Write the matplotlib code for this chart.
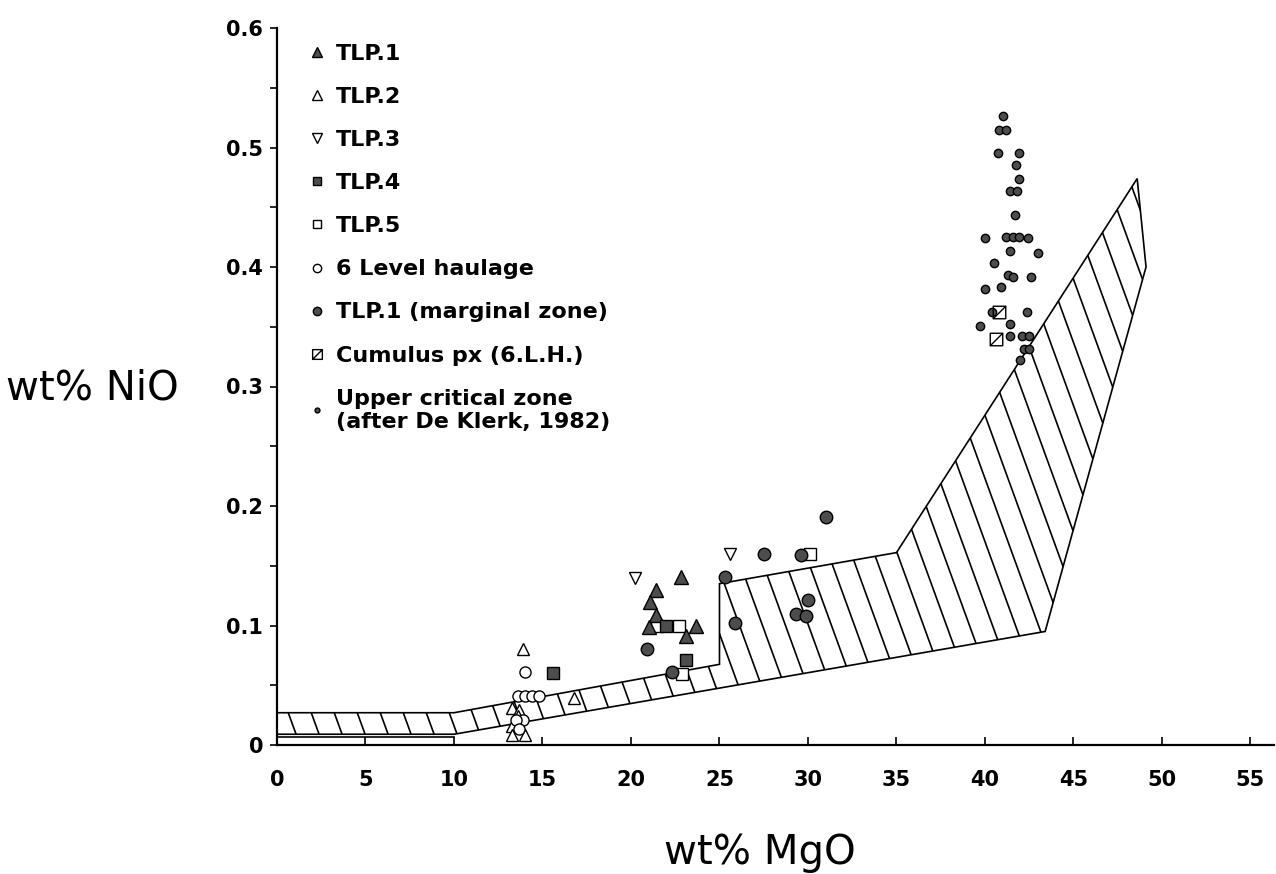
import numpy as np
import matplotlib
matplotlib.use('Agg')
import matplotlib.pyplot as plt
from matplotlib.lines import Line2D
from matplotlib.path import Path
from matplotlib.patches import Polygon
from matplotlib.collections import LineCollection

# --- data (wt% MgO, wt% NiO) ---
tlp1_x = [22.8, 21.4, 21.1, 21.4, 21.0, 23.7, 23.1]
tlp1_y = [0.141, 0.130, 0.120, 0.109, 0.099, 0.100, 0.091]

tlp2_x = [13.9, 16.8, 13.3, 13.7, 13.3, 14.0, 13.3, 13.6]
tlp2_y = [0.080, 0.039, 0.031, 0.029, 0.016, 0.008, 0.008, 0.024]

tlp3_x = [20.2, 25.6]
tlp3_y = [0.140, 0.160]

tlp4_x = [15.6, 22.0, 23.1]
tlp4_y = [0.060, 0.100, 0.071]

tlp5_x = [21.45, 22.7, 22.9, 30.1]
tlp5_y = [0.100, 0.100, 0.059, 0.160]

lh6_x = [14.0, 13.6, 14.0, 14.4, 14.8, 13.9, 13.5, 13.7]
lh6_y = [0.061, 0.041, 0.041, 0.041, 0.041, 0.021, 0.021, 0.013]

marg_x = [20.9, 22.3, 25.3, 25.9, 27.5, 29.6, 30.0, 29.3, 29.9, 31.0]
marg_y = [0.080, 0.061, 0.141, 0.102, 0.160, 0.159, 0.121, 0.110, 0.108, 0.191]

cum_x = [40.8, 40.6]
cum_y = [0.362, 0.340]

ucz_x = [41.0, 40.8, 41.2, 40.75, 41.9, 41.75, 41.9, 41.4, 41.8, 41.7, 40.0,
         41.2, 41.6, 41.9, 42.45, 41.4, 43.0, 40.5, 41.3, 41.6, 42.6, 40.0,
         40.9, 40.4, 42.4, 39.7, 41.4, 41.4, 42.1, 42.5, 42.2, 42.5, 42.0]
ucz_y = [0.526, 0.515, 0.515, 0.495, 0.495, 0.485, 0.474, 0.464, 0.464, 0.4435, 0.424,
         0.425, 0.425, 0.425, 0.424, 0.413, 0.412, 0.403, 0.393, 0.392, 0.392, 0.382,
         0.383, 0.362, 0.362, 0.351, 0.352, 0.342, 0.342, 0.342, 0.331, 0.331, 0.322]

# hatched field (outline)
field_x = [0, 10, 25, 25, 35, 48.6, 49.1, 43.4, 10, 0]
field_y = [0.027, 0.027, 0.0675, 0.135, 0.161, 0.474, 0.400, 0.095, 0.009, 0.009]
base_x = [0, 10]
base_y = [0.007, 0.007]

labels = ['TLP.1', 'TLP.2', 'TLP.3', 'TLP.4', 'TLP.5', '6 Level haulage',
          'TLP.1 (marginal zone)', 'Cumulus px (6.L.H.)',
          'Upper critical zone\n(after De Klerk, 1982)']
xticks = [0, 5, 10, 15, 20, 25, 30, 35, 40, 45, 50, 55]
yticks = [0, 0.1, 0.2, 0.3, 0.4, 0.5, 0.6]
ytick_labels = ['0', '0.1', '0.2', '0.3', '0.4', '0.5', '0.6']

dark = '#4d4d4d'
W, H = 1276, 874
ax_rect = [277 / W, 129 / H, 997 / W, 717 / H]
xmin, xmax = 0, 56.33
ymin, ymax = 0, 0.6

# square with a diagonal
cum_marker = Path([(-1, -1), (1, -1), (1, 1), (-1, 1), (-1, -1), (-1, -1), (1, 1)],
                  [Path.MOVETO, Path.LINETO, Path.LINETO, Path.LINETO, Path.CLOSEPOLY,
                   Path.MOVETO, Path.LINETO])

fig = plt.figure(figsize=(W / 100, H / 100), dpi=100)
ax = fig.add_axes(ax_rect)
ax.set_xlim(xmin, xmax)
ax.set_ylim(ymin, ymax)

# field outline + hatching
poly = Polygon(np.column_stack([field_x, field_y]), closed=True, fill=False,
               edgecolor='black', linewidth=1.2, zorder=2)
ax.add_patch(poly)
ax.plot(base_x, base_y, color='black', lw=1.2, zorder=2)

px_x = W * ax_rect[2] / (xmax - xmin)
px_y = H * ax_rect[3] / (ymax - ymin)
ang = np.radians(70)
dx_full = (ymax - ymin) * px_y / np.tan(ang) / px_x
step = 23 / px_x
segs = [[(c, ymax), (c + dx_full, ymin)] for c in np.arange(-dx_full, xmax + step, step)]
hatch = LineCollection(segs, colors='black', linewidths=1.2, zorder=2)
ax.add_collection(hatch)
hatch.set_clip_path(poly)

# points
ms = dict(ls='none', mec='black', mew=1.0, zorder=4)
ax.plot(tlp2_x, tlp2_y, marker='^', ms=9, mfc='white', **ms)
ax.plot(lh6_x, lh6_y, marker='o', ms=8, mfc='white', **ms)
ax.plot(tlp3_x, tlp3_y, marker='v', ms=9, mfc='white', **ms)
ax.plot(tlp5_x, tlp5_y, marker='s', ms=8, mfc='white', **ms)
ax.plot(tlp1_x, tlp1_y, marker='^', ms=10, mfc=dark, **ms)
ax.plot(tlp4_x, tlp4_y, marker='s', ms=8, mfc=dark, **ms)
ax.plot(marg_x, marg_y, marker='o', ms=9, mfc=dark, **ms)
ax.plot(ucz_x, ucz_y, marker='o', ms=6, mfc=dark, **ms)
ax.plot(cum_x, cum_y, marker=cum_marker, ms=9, mfc='none', **ms)

# axes styling
for s in ['top', 'right']:
    ax.spines[s].set_visible(False)
for s in ['left', 'bottom']:
    ax.spines[s].set_linewidth(1.6)
ax.set_xticks(xticks)
ax.set_xticklabels([str(v) for v in xticks])
ax.set_yticks(yticks)
ax.set_yticklabels(ytick_labels)
ax.set_yticks(np.arange(0.05, 0.6, 0.1), minor=True)
ax.tick_params(axis='x', direction='in', length=6, width=1.2, pad=18)
ax.tick_params(axis='y', which='both', direction='out', length=5, width=1.2, pad=5)
for lab in ax.get_xticklabels() + ax.get_yticklabels():
    lab.set_fontfamily('DejaVu Sans')
    lab.set_fontweight('bold')
    lab.set_fontsize(15)

fig.text(6 / W, 1 - 388 / H, 'wt% NiO', fontsize=29, ha='left', va='center',
         family='DejaVu Sans')
fig.text(760 / W, 1 - 853 / H, 'wt% MgO', fontsize=29, ha='center', va='center',
         family='DejaVu Sans')

# legend
lk = dict(ls='none', mec='black', mew=1.0)
handles = [
    Line2D([], [], marker='^', ms=7, mfc=dark, **lk),
    Line2D([], [], marker='^', ms=7, mfc='white', **lk),
    Line2D([], [], marker='v', ms=7, mfc='white', **lk),
    Line2D([], [], marker='s', ms=6, mfc=dark, **lk),
    Line2D([], [], marker='s', ms=6, mfc='white', **lk),
    Line2D([], [], marker='o', ms=6, mfc='white', **lk),
    Line2D([], [], marker='o', ms=6, mfc=dark, **lk),
    Line2D([], [], marker=cum_marker, ms=7, mfc='none', **lk),
    Line2D([], [], marker='o', ms=3.5, mfc=dark, **lk),
]
ax.legend(handles, labels, loc='upper left', bbox_to_anchor=(0.031, 0.978),
          frameon=False, prop=dict(family='DejaVu Sans', weight='bold', size=16),
          handlelength=0.8, handletextpad=0.45, labelspacing=1.04,
          borderaxespad=0, borderpad=0)

fig.savefig('out.png', dpi=100)
